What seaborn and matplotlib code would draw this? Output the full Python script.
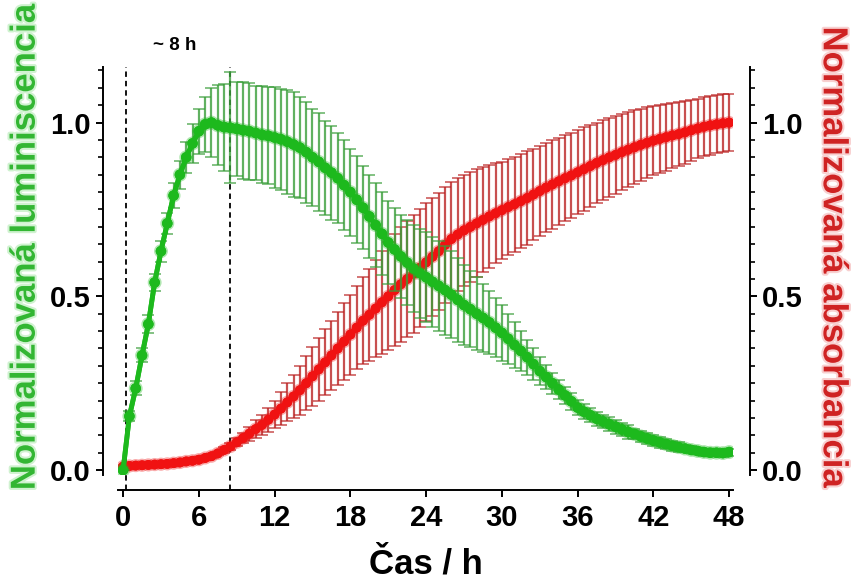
import numpy as np
import matplotlib
matplotlib.use("Agg")
import matplotlib.pyplot as plt
import matplotlib.patheffects as pe
from matplotlib.ticker import MultipleLocator
import pandas as pd
import seaborn as sns

# Sampling times (h), one reading every 30 min
hours = np.arange(0, 48.01, 0.5)

# Normalised luminescence: mean and SD
lum_mean = [
    0.0, 0.155, 0.235, 0.33, 0.42, 0.54, 0.63, 0.71, 0.79, 0.85,
    0.90, 0.94, 0.975, 0.995, 1.0, 0.992, 0.987, 0.985, 0.982, 0.978,
    0.975, 0.97, 0.965, 0.962, 0.957, 0.952, 0.945, 0.937, 0.928, 0.915,
    0.90, 0.887, 0.87, 0.856, 0.84, 0.82, 0.80, 0.778, 0.755, 0.73,
    0.705, 0.68, 0.655, 0.635, 0.615, 0.597, 0.58, 0.567, 0.555, 0.542,
    0.53, 0.518, 0.505, 0.49, 0.475, 0.463, 0.45, 0.438, 0.425, 0.41,
    0.395, 0.378, 0.36, 0.343, 0.325, 0.305, 0.285, 0.268, 0.25, 0.232,
    0.215, 0.198, 0.18, 0.168, 0.158, 0.148, 0.14, 0.132, 0.125, 0.117,
    0.11, 0.104, 0.097, 0.091, 0.085, 0.08, 0.075, 0.07, 0.066, 0.062,
    0.058, 0.055, 0.052, 0.05, 0.05, 0.049, 0.052,
]
lum_sd = [
    0.0, 0.015, 0.02, 0.02, 0.025, 0.025, 0.03, 0.03, 0.035, 0.04,
    0.045, 0.055, 0.065, 0.08, 0.1, 0.115, 0.125, 0.16, 0.135, 0.14,
    0.14, 0.135, 0.14, 0.14, 0.145, 0.145, 0.15, 0.15, 0.145, 0.145,
    0.14, 0.14, 0.135, 0.135, 0.13, 0.13, 0.125, 0.125, 0.12, 0.12,
    0.12, 0.12, 0.12, 0.12, 0.12, 0.122, 0.125, 0.128, 0.13, 0.13,
    0.13, 0.128, 0.125, 0.12, 0.115, 0.11, 0.105, 0.098, 0.09, 0.085,
    0.08, 0.072, 0.065, 0.058, 0.05, 0.045, 0.04, 0.035, 0.03, 0.028,
    0.025, 0.024, 0.022, 0.021, 0.02, 0.02, 0.02, 0.02, 0.02, 0.02,
    0.02, 0.015, 0.015, 0.015, 0.015, 0.015, 0.015, 0.015, 0.015, 0.01,
    0.01, 0.01, 0.01, 0.01, 0.01, 0.01, 0.01,
]

# Normalised absorbance: mean and SD
abs_mean = [
    0.01, 0.012, 0.013, 0.014, 0.015, 0.016, 0.017, 0.018, 0.02, 0.022,
    0.025, 0.027, 0.03, 0.035, 0.04, 0.048, 0.058, 0.068, 0.08, 0.092,
    0.105, 0.118, 0.13, 0.145, 0.16, 0.177, 0.195, 0.212, 0.23, 0.25,
    0.27, 0.29, 0.31, 0.33, 0.35, 0.37, 0.39, 0.41, 0.43, 0.447,
    0.465, 0.483, 0.50, 0.518, 0.535, 0.55, 0.565, 0.582, 0.598, 0.614,
    0.63, 0.648, 0.665, 0.678, 0.69, 0.70, 0.71, 0.72, 0.73, 0.739,
    0.748, 0.757, 0.765, 0.774, 0.783, 0.793, 0.803, 0.813, 0.822, 0.831,
    0.84, 0.848, 0.857, 0.866, 0.875, 0.884, 0.892, 0.90, 0.907, 0.915,
    0.922, 0.929, 0.936, 0.942, 0.948, 0.953, 0.958, 0.963, 0.967, 0.972,
    0.978, 0.983, 0.988, 0.992, 0.995, 0.998, 1.0,
]
abs_sd = [
    0.005, 0.005, 0.005, 0.005, 0.005, 0.005, 0.005, 0.005, 0.005, 0.005,
    0.005, 0.005, 0.005, 0.005, 0.005, 0.005, 0.008, 0.01, 0.012, 0.015,
    0.02, 0.025, 0.03, 0.035, 0.04, 0.047, 0.055, 0.062, 0.07, 0.078,
    0.085, 0.09, 0.095, 0.10, 0.105, 0.11, 0.115, 0.12, 0.125, 0.132,
    0.14, 0.148, 0.155, 0.16, 0.165, 0.168, 0.17, 0.17, 0.17, 0.17,
    0.168, 0.166, 0.165, 0.162, 0.16, 0.158, 0.155, 0.151, 0.148, 0.144,
    0.14, 0.138, 0.137, 0.135, 0.134, 0.132, 0.13, 0.128, 0.127, 0.125,
    0.124, 0.122, 0.121, 0.12, 0.118, 0.116, 0.115, 0.113, 0.112, 0.11,
    0.108, 0.106, 0.104, 0.102, 0.10, 0.098, 0.096, 0.094, 0.092, 0.09,
    0.088, 0.086, 0.085, 0.084, 0.083, 0.083, 0.082,
]

x_ticks = [0, 6, 12, 18, 24, 30, 36, 42, 48]
y_ticks = [0.0, 0.5, 1.0]
guide_hours = [0.25, 8.5]
guide_note = "~ 8 h"

GREEN = "#1db91d"
GREEN_BAR = "#3a9e3a"
RED = "#f01212"
RED_BAR = "#bb2424"

sns.set_theme(style="ticks")
plt.rcParams["font.family"] = ["Liberation Sans", "DejaVu Sans"]
plt.rcParams["font.weight"] = "bold"
plt.rcParams["axes.labelweight"] = "bold"

df = pd.DataFrame({"hours": hours, "lum": lum_mean, "abs": abs_mean})

fig = plt.figure(figsize=(8.51, 5.88), dpi=100)
ax = fig.add_axes([0.1387, 0.1922, 0.7226, 0.6939])
ax2 = ax.twinx()

xlim = (-0.4, 48.3)
ylim = (-0.014, 1.16)

# dashed guides
for gh in guide_hours:
    ax.axvline(gh, ymin=-15 / 408, ymax=1, color="black", lw=1.3,
               ls=(0, (3, 2.2)), clip_on=False, zorder=1)

# absorbance (left axes, drawn underneath)
ax.errorbar(hours, abs_mean, yerr=abs_sd, fmt="none", ecolor=RED_BAR,
            elinewidth=1.6, capsize=4.3, capthick=1.1, alpha=0.8, zorder=2)
sns.lineplot(data=df, x="hours", y="abs", ax=ax, color=RED, lw=4,
             marker="o", markersize=7, markeredgewidth=0, errorbar=None,
             zorder=3)
ax.lines[-1].set_path_effects([pe.withStroke(linewidth=2.5, foreground=RED, alpha=0.35),
                               pe.Normal()])

# luminescence (twin axes, drawn on top)
ax2.errorbar(hours, lum_mean, yerr=lum_sd, fmt="none", ecolor=GREEN_BAR,
             elinewidth=1.6, capsize=4.3, capthick=1.1, alpha=0.8, zorder=2)
sns.lineplot(data=df, x="hours", y="lum", ax=ax2, color=GREEN, lw=3.5,
             marker="o", markersize=7.5, markeredgewidth=0, errorbar=None,
             zorder=3)
ax2.lines[-1].set_path_effects([pe.withStroke(linewidth=2.5, foreground=GREEN, alpha=0.35),
                                pe.Normal()])

for a in (ax, ax2):
    a.set_xlim(*xlim)
    a.set_ylim(*ylim)
    a.set_yticks(y_ticks)
    a.yaxis.set_minor_locator(MultipleLocator(0.05))
    for s in a.spines.values():
        s.set_color("black")
        s.set_linewidth(1.4)
    a.tick_params(axis="both", which="major", length=5, width=1.4,
                  color="black", labelcolor="black", labelsize=21, pad=4)
    a.tick_params(axis="y", which="minor", length=3.5, width=1.2, color="black")

ax.set_xticks(x_ticks)
ax.tick_params(axis="x", pad=5)
ax.spines["top"].set_visible(False)
ax.spines["right"].set_visible(False)
ax.spines["left"].set_position(("outward", 11))
ax.spines["bottom"].set_position(("outward", 11))
for side in ("left", "top", "bottom"):
    ax2.spines[side].set_visible(False)
ax2.spines["right"].set_position(("outward", 12))
ax2.tick_params(axis="x", which="both", bottom=False, labelbottom=False)

ax.set_xlabel("Čas / h", fontsize=25, color="black")
ax.xaxis.set_label_coords(0.5, -0.178)

ax.set_ylabel("Normalizovaná luminiscencia", fontsize=25, color="#33b633")
ax.yaxis.label.set_verticalalignment("center")
ax.yaxis.set_label_coords(-0.151, 0.559)
ax.yaxis.label.set_path_effects([pe.withStroke(linewidth=3, foreground="#d0f2d0")])

ax2.set_ylabel("Normalizovaná absorbancia", fontsize=25, color="#cf2323",
               rotation=270)
ax2.yaxis.label.set_verticalalignment("center")
ax2.yaxis.set_label_coords(1.163, 0.534)
ax2.yaxis.label.set_path_effects([pe.withStroke(linewidth=3, foreground="#f8d0d0")])

ax.text(4.1, 1.223, guide_note, ha="center", va="center", fontsize=13.5,
        fontweight="bold", color="black", clip_on=False)

fig.savefig("out.png", dpi=100)
